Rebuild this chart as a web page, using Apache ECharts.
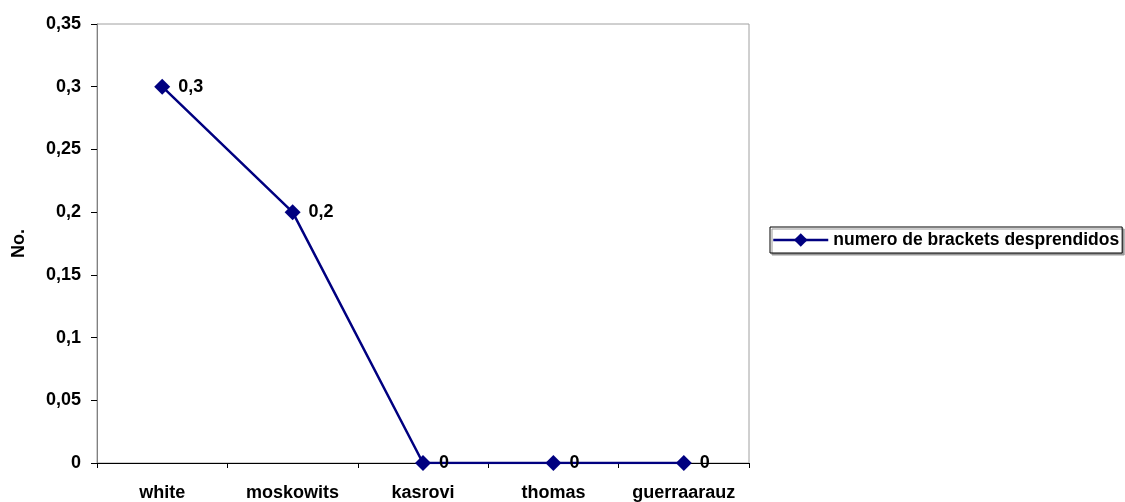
<!DOCTYPE html>
<html>
<head>
<meta charset="utf-8">
<script src="https://cdn.jsdelivr.net/npm/echarts@6/dist/echarts.min.js"></script>
<style>
  html, body { margin: 0; padding: 0; background: #fff; }
  #chart { width: 1125px; height: 502px; }
</style>
</head>
<body>
<div id="chart"></div>
<script>
// Detached brackets per author
const categories = ['white', 'moskowits', 'kasrovi', 'thomas', 'guerraarauz'];
const seriesName = 'numero de brackets desprendidos';
const values = [0.3, 0.2, 0, 0, 0];
const yTicks = { min: 0, max: 0.35, interval: 0.05 };

const navy = '#000080';
const font = 'Liberation Sans, Arial, sans-serif';

const fmtComma = v => String(Math.round(v * 100) / 100).replace('.', ',');

const chart = echarts.init(document.getElementById('chart'), null, { renderer: 'canvas' });

chart.setOption({
  backgroundColor: '#fff',
  animation: false,
  grid: {
    left: 97, right: 376, top: 24, bottom: 39,
    show: true, borderColor: '#a0a0a0', borderWidth: 1, backgroundColor: 'transparent'
  },
  legend: {
    left: 770, top: 227,
    orient: 'horizontal',
    itemWidth: 55, itemHeight: 17, itemGap: 0,
    padding: [4, 3, 4, 2],
    backgroundColor: '#fff',
    borderColor: '#000', borderWidth: 1,
    shadowColor: '#999', shadowOffsetX: 2, shadowOffsetY: 2, shadowBlur: 0,
    lineStyle: { width: 2.5, color: navy },
    itemStyle: { color: navy },
    textStyle: { fontFamily: font, fontWeight: 'bold', fontSize: 17.5, color: '#000' },
    data: [seriesName]
  },
  xAxis: {
    type: 'category',
    data: categories,
    boundaryGap: true,
    axisLine: { lineStyle: { color: '#000', width: 1 } },
    axisTick: { show: true, length: 5, inside: false, lineStyle: { color: '#000' } },
    axisLabel: { interval: 0, margin: 21, fontFamily: font, fontWeight: 'bold', fontSize: 18, color: '#000' },
    splitLine: { show: false }
  },
  yAxis: {
    type: 'value',
    min: yTicks.min, max: yTicks.max, interval: yTicks.interval,
    name: 'No.',
    nameLocation: 'middle',
    nameGap: 69,
    nameRotate: 90,
    nameTextStyle: { fontFamily: font, fontWeight: 'bold', fontSize: 18, color: '#000' },
    axisLine: { show: true, lineStyle: { color: '#808080', width: 1 } },
    axisTick: { show: true, length: 6, inside: false, lineStyle: { color: '#000' } },
    axisLabel: { margin: 16, fontFamily: font, fontWeight: 'bold', fontSize: 18, color: '#000', formatter: fmtComma },
    splitLine: { show: false }
  },
  series: [{
    name: seriesName,
    type: 'line',
    data: values,
    symbol: 'diamond',
    symbolSize: [16, 16],
    itemStyle: { color: navy },
    lineStyle: { color: navy, width: 2.5 },
    label: {
      show: true,
      position: 'right',
      distance: 8,
      fontFamily: font, fontWeight: 'bold', fontSize: 18, color: '#000',
      formatter: p => fmtComma(p.value)
    }
  }]
});
</script>
</body>
</html>
